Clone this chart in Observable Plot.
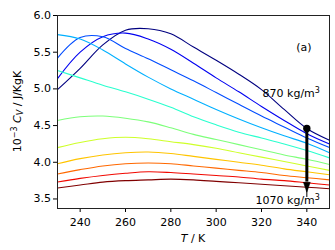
<!DOCTYPE html>
<html><head><meta charset="utf-8">
<script src="https://cdn.jsdelivr.net/npm/d3@7"></script>
<script src="https://cdn.jsdelivr.net/npm/@observablehq/plot@0.6"></script>
<style>
html,body{margin:0;padding:0;background:#fff}
svg{font-family:"DejaVu Sans",sans-serif}
</style>
</head><body><div id="chart"></div>
<script>
// ---- data ----
const temperatures = [230, 240, 250, 260, 270, 280, 290, 300, 310, 320, 330, 340, 350];
const densities = [870, 890, 910, 930, 950, 970, 990, 1010, 1030, 1050, 1070];
const cv870  = [4.99, 5.28, 5.60, 5.80, 5.82, 5.75, 5.57, 5.39, 5.20, 4.99, 4.72, 4.46, 4.30];
const cv890  = [5.14, 5.50, 5.71, 5.76, 5.68, 5.54, 5.35, 5.15, 4.96, 4.76, 4.57, 4.39, 4.25];
const cv910  = [5.42, 5.70, 5.71, 5.55, 5.41, 5.26, 5.11, 4.95, 4.79, 4.63, 4.48, 4.33, 4.20];
const cv930  = [5.74, 5.68, 5.53, 5.34, 5.16, 5.00, 4.86, 4.72, 4.59, 4.47, 4.36, 4.26, 4.13];
const cv950  = [5.25, 5.15, 5.05, 4.96, 4.86, 4.75, 4.62, 4.51, 4.41, 4.33, 4.25, 4.16, 4.06];
const cv970  = [4.57, 4.62, 4.63, 4.60, 4.55, 4.47, 4.38, 4.31, 4.24, 4.17, 4.10, 4.04, 3.97];
const cv990  = [4.20, 4.27, 4.32, 4.34, 4.32, 4.28, 4.24, 4.19, 4.13, 4.07, 4.01, 3.95, 3.89];
const cv1010 = [3.98, 4.05, 4.10, 4.13, 4.14, 4.12, 4.08, 4.04, 4.00, 3.96, 3.91, 3.87, 3.83];
const cv1030 = [3.84, 3.90, 3.95, 3.98, 3.99, 3.98, 3.95, 3.92, 3.89, 3.86, 3.82, 3.79, 3.76];
const cv1050 = [3.73, 3.78, 3.82, 3.85, 3.87, 3.86, 3.84, 3.82, 3.80, 3.77, 3.75, 3.72, 3.69];
const cv1070 = [3.65, 3.69, 3.73, 3.75, 3.76, 3.77, 3.76, 3.74, 3.72, 3.70, 3.68, 3.66, 3.64];
const seriesValues = [cv870, cv890, cv910, cv930, cv950, cv970, cv990, cv1010, cv1030, cv1050, cv1070];
const colors = ["#000080", "#0000f1", "#004cff", "#00b0ff", "#29ffce", "#7dff7a",
                "#ceff29", "#ffc400", "#ff6800", "#f10800", "#800000"];
const xTicks = [240, 260, 280, 300, 320, 340];
const yTicks = [3.5, 4.0, 4.5, 5.0, 5.5, 6.0];
const arrowT = 340;

// ---- build table ----
const rows = densities.flatMap((d, i) =>
  temperatures.map((t, j) => ({T: t, cv: seriesValues[i][j], density: d})));
const ai = temperatures.indexOf(arrowT);
const arrowFrom = cv870[ai];
const arrowTo = cv1070[ai];

const headSymbol = {
  draw(ctx, size) {
    const r = Math.sqrt(size / Math.PI);
    ctx.moveTo(-r * 0.9, -r * 1.3);
    ctx.lineTo(r * 0.9, -r * 1.3);
    ctx.lineTo(0, r * 1.3);
    ctx.closePath();
  }
};

const plot = Plot.plot({
  width: 335, height: 250,
  marginLeft: 57, marginRight: 6, marginTop: 15, marginBottom: 42,
  style: {fontFamily: "DejaVu Sans", fontSize: "11px", color: "black", background: "white", overflow: "visible"},
  x: {domain: [230, 350], ticks: xTicks, tickSize: 4, tickPadding: 6, label: null},
  y: {domain: [3.37, 6.0], ticks: yTicks, tickFormat: d3.format(".1f"), tickSize: 4, tickPadding: 2.5, label: null},
  color: {type: "ordinal", domain: densities, range: colors},
  marks: [
    Plot.line(rows, {x: "T", y: "cv", z: "density", stroke: "density", curve: "catmull-rom", strokeWidth: 1.1}),
    Plot.ruleX([arrowT], {y1: arrowFrom, y2: arrowTo + 0.07, stroke: "black", strokeWidth: 3}),
    Plot.ruleX([arrowT], {y1: arrowTo, y2: arrowTo - 0.14, stroke: "black", strokeWidth: 1}),
    Plot.dot([arrowT], {x: d => d, y: () => arrowTo, symbol: headSymbol, r: 3.8, fill: "black", stroke: "black", strokeWidth: 0.5}),
    Plot.dot([arrowT], {x: d => d, y: () => arrowFrom, r: 3.7, fill: "black", stroke: "none"}),
    Plot.frame({stroke: "#222", strokeWidth: 1})
  ]
});
document.getElementById("chart").appendChild(plot);

// ---- text annotations ----
const xs = plot.scale("x"), ys = plot.scale("y");
const svg = d3.select(plot);
const g = svg.append("g").attr("font-family", "DejaVu Sans").attr("font-size", 11).attr("fill", "black");

// y label
const yl = g.append("text")
  .attr("transform", `translate(20.5,${(ys.apply(6.0) + ys.apply(3.37)) / 2}) rotate(-90)`)
  .attr("text-anchor", "middle");
yl.append("tspan").text("10");
yl.append("tspan").attr("dy", -4).attr("font-size", 8).text("−3");
yl.append("tspan").attr("dy", 4).text(" ");
yl.append("tspan").attr("font-style", "italic").text("C");
yl.append("tspan").attr("dy", 2).attr("font-size", 8).attr("font-style", "italic").text("V");
yl.append("tspan").attr("dy", -2).text(" / J/KgK");

// x label
const xl = g.append("text").attr("x", (xs.apply(230) + xs.apply(350)) / 2).attr("y", 242).attr("text-anchor", "middle");
xl.append("tspan").attr("font-style", "italic").text("T");
xl.append("tspan").text(" / K");

// density labels
function densLabel(txt, tx, vy) {
  const t = g.append("text").attr("x", xs.apply(tx)).attr("y", ys.apply(vy)).attr("text-anchor", "end");
  t.append("tspan").text(txt + " kg/m");
  t.append("tspan").attr("dy", -4).attr("font-size", 8).text("3");
}
densLabel(String(densities[0]), 346, 4.884);
densLabel(String(densities[densities.length - 1]), 346, 3.422);

g.append("text").attr("x", xs.apply(338.9)).attr("y", ys.apply(5.51)).attr("text-anchor", "middle").text("(a)");
</script>
</body></html>
